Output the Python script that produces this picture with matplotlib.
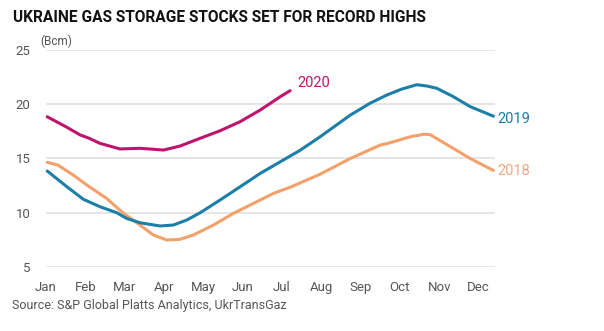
import matplotlib.pyplot as plt

# ================== data (Bcm), x in months from Jan ==================
months = ['Jan', 'Feb', 'Mar', 'Apr', 'May', 'Jun', 'Jul', 'Aug', 'Sep', 'Oct', 'Nov', 'Dec']

x_2020 = [0.03, 0.53, 0.87, 1.1, 1.37, 1.88, 2.39, 2.99, 3.41, 3.92, 4.43, 4.94, 5.45, 5.96, 6.21]
y_2020 = [18.85, 17.88, 17.17, 16.86, 16.4, 15.88, 15.94, 15.78, 16.15, 16.86, 17.56, 18.4, 19.47, 20.7, 21.25]

x_2019 = [0.03, 0.53, 0.95, 1.37, 1.8, 2.05, 2.39, 2.9, 3.24, 3.58, 3.92, 4.43, 4.94, 5.45, 5.96,
          6.46, 6.97, 7.74, 8.24, 8.67, 9.05, 9.43, 9.69, 9.94, 10.36, 10.79, 11.38]
y_2019 = [13.85, 12.4, 11.24, 10.56, 10.0, 9.48, 9.08, 8.78, 8.87, 9.33, 10.0, 11.18, 12.4, 13.63, 14.7,
          15.75, 17.0, 19.0, 20.09, 20.85, 21.4, 21.8, 21.68, 21.47, 20.7, 19.78, 18.9]

x_2018 = [0.03, 0.3, 0.69, 1.1, 1.54, 1.97, 2.39, 2.73, 3.07, 3.41, 3.75, 4.26, 4.77, 5.28, 5.79,
          6.21, 6.97, 7.74, 8.5, 8.75, 9.26, 9.6, 9.77, 10.28, 10.79, 11.38]
y_2018 = [14.65, 14.4, 13.48, 12.4, 11.33, 9.95, 8.87, 7.95, 7.49, 7.55, 7.95, 8.87, 9.95, 10.87, 11.79,
          12.35, 13.55, 15.0, 16.24, 16.45, 17.0, 17.23, 17.2, 16.1, 15.0, 13.9]

yticks = [5, 10, 15, 20, 25]

# ================== style ==================
plt.rcParams['font.family'] = ['Roboto', 'DejaVu Sans']

C2020 = '#c0136d'
C2019 = '#1b7fa7'
C2018 = '#f4a06b'
L2018 = '#f3a783'
GRID = '#e3e3e3'
TXT = '#555555'

fig = plt.figure(figsize=(6.04, 3.31), dpi=100)
ax = fig.add_axes([46 / 604, 1 - 267 / 331, 449 / 604, 217 / 331])

ax.plot(x_2018, y_2018, color=C2018, lw=2.2, solid_capstyle='round', clip_on=False)
ax.plot(x_2019, y_2019, color=C2019, lw=2.2, solid_capstyle='round', clip_on=False)
ax.plot(x_2020, y_2020, color=C2020, lw=2.2, solid_capstyle='round', clip_on=False)

ax.set_xlim(0, 11.42)
ax.set_ylim(5, 25)
ax.set_yticks(yticks)
ax.set_xticks(range(len(months)))
ax.set_xticklabels(months)
ax.grid(axis='y', color=GRID, lw=1.3)
ax.set_axisbelow(True)
for s in ax.spines.values():
    s.set_visible(False)
ax.tick_params(axis='both', length=0, labelsize=9.5, colors=TXT)
ax.tick_params(axis='y', pad=11)
ax.tick_params(axis='x', pad=10)

# series labels
ax.text(6.39, 21.96, '2020', color=C2020, fontsize=10.5, va='center', ha='left')
ax.text(11.49, 18.64, '2019', color=C2019, fontsize=10.5, va='center', ha='left', clip_on=False)
ax.text(11.49, 13.85, '2018', color=L2018, fontsize=10.5, va='center', ha='left', clip_on=False)

fig.text(40 / 604, 1 - 41 / 331, '(Bcm)', fontsize=8.5, color=TXT, va='center', ha='left')
fig.text(13 / 604, 1 - 17 / 331, 'UKRAINE GAS STORAGE STOCKS SET FOR RECORD HIGHS',
         fontsize=11.2, fontweight='bold', color='#111111', va='center', ha='left')
fig.text(12 / 604, 1 - 306 / 331, 'Source: S&P Global Platts Analytics, UkrTransGaz',
         fontsize=9, color=TXT, va='center', ha='left')

fig.savefig('out.png', dpi=100, facecolor='white')
